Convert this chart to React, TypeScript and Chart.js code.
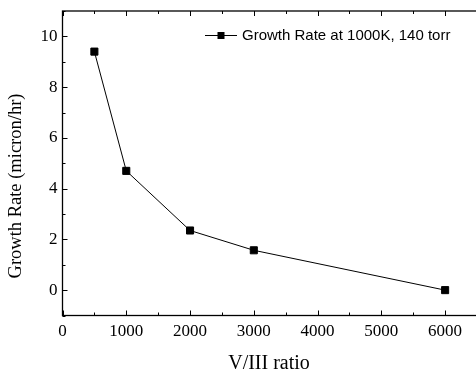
import React, { useEffect, useRef } from "react";
import { Chart, registerables } from "chart.js";

Chart.register(...registerables);

const seriesLabel = "Growth Rate at 1000K, 140 torr";
const ratios = [500, 1000, 2000, 3000, 6000];
const growthRates = [9.4, 4.7, 2.35, 1.57, 0.0];
const xTitle = "V/III ratio";
const yTitle = "Growth Rate (micron/hr)";

const SERIF = '"Liberation Serif", "Times New Roman", serif';
const SANS = '"Liberation Sans", Arial, sans-serif';

const framePlugin = {
  id: "frame",
  afterDraw(chart: any) {
    const { ctx, chartArea: a, scales } = chart;
    const xs = scales.x;
    const ys = scales.y;
    ctx.save();
    ctx.strokeStyle = "#000";
    ctx.lineWidth = 1.3;
    ctx.strokeRect(a.left, a.top, a.right - a.left, a.bottom - a.top);
    ctx.lineWidth = 1;
    ctx.beginPath();
    xs.ticks.forEach((t: any) => {
      const px = Math.round(xs.getPixelForValue(t.value)) + 0.5;
      const len = t.value % 1000 === 0 ? 5 : 3;
      ctx.moveTo(px, a.bottom);
      ctx.lineTo(px, a.bottom - len);
      ctx.moveTo(px, a.top);
      ctx.lineTo(px, a.top + len);
    });
    ys.ticks.forEach((t: any) => {
      const py = Math.round(ys.getPixelForValue(t.value)) + 0.5;
      const len = t.value % 2 === 0 ? 5 : 3;
      ctx.moveTo(a.left, py);
      ctx.lineTo(a.left + len, py);
    });
    ctx.stroke();

    // axis titles
    ctx.fillStyle = "#000";
    ctx.textAlign = "center";
    ctx.textBaseline = "alphabetic";
    ctx.font = `20px ${SERIF}`;
    ctx.fillText(xTitle, 269, 369);
    ctx.save();
    ctx.font = `18.5px ${SERIF}`;
    ctx.translate(21, 186);
    ctx.rotate(-Math.PI / 2);
    ctx.fillText(yTitle, 0, 0);
    ctx.restore();

    // legend
    const ly = 35.5;
    ctx.beginPath();
    ctx.moveTo(205, ly);
    ctx.lineTo(237, ly);
    ctx.stroke();
    ctx.fillRect(217.5, ly - 3.5, 7, 7);
    ctx.font = `15px ${SANS}`;
    ctx.textAlign = "left";
    ctx.textBaseline = "middle";
    ctx.fillText(seriesLabel, 242, ly);
    ctx.restore();
  },
};

export default function App() {
  const ref = useRef<HTMLCanvasElement>(null);
  useEffect(() => {
    if (!ref.current) return;
    const chart = new Chart(ref.current, {
      type: "line",
      data: {
        datasets: [
          {
            label: seriesLabel,
            data: ratios.map((x, i) => ({ x, y: growthRates[i] })),
            borderColor: "#000",
            backgroundColor: "#000",
            borderWidth: 1,
            pointStyle: "rect",
            pointRadius: 5,
            pointHoverRadius: 5,
            tension: 0,
          },
        ],
      },
      plugins: [framePlugin],
      options: {
        animation: false,
        responsive: false,
        events: [],
        layout: {
          autoPadding: false,
          padding: { top: 11, left: 0, right: 0, bottom: 0 },
        },
        plugins: { legend: { display: false }, tooltip: { enabled: false } },
        scales: {
          x: {
            type: "linear",
            min: 0,
            max: 6500,
            grid: { display: false, drawTicks: false },
            border: { display: false },
            ticks: {
              stepSize: 500,
              autoSkip: false,
              maxRotation: 0,
              padding: 6,
              color: "#000",
              font: { family: SERIF, size: 17 },
              callback: (v: any) =>
                Number(v) % 1000 === 0 && Number(v) <= 6000 ? String(v) : "",
            },
            afterFit: (s: any) => {
              s.height = 56.5;
              s.paddingLeft = 0;
              s.paddingRight = 0;
            },
          },
          y: {
            type: "linear",
            min: -1,
            max: 11,
            grid: { display: false, drawTicks: false },
            border: { display: false },
            ticks: {
              stepSize: 1,
              autoSkip: false,
              padding: 5,
              color: "#000",
              font: { family: SERIF, size: 17 },
              callback: (v: any) =>
                Number(v) % 2 === 0 && Number(v) >= 0 && Number(v) <= 10
                  ? String(v)
                  : "",
            },
            afterFit: (s: any) => {
              s.width = 62.5;
              s.paddingTop = 0;
              s.paddingBottom = 0;
            },
          },
        },
      },
    });
    return () => chart.destroy();
  }, []);
  return (
    <div style={{ position: "absolute", left: 0, top: 0 }}>
      <canvas ref={ref} width={477} height={372} style={{ display: "block" }} />
    </div>
  );
}
